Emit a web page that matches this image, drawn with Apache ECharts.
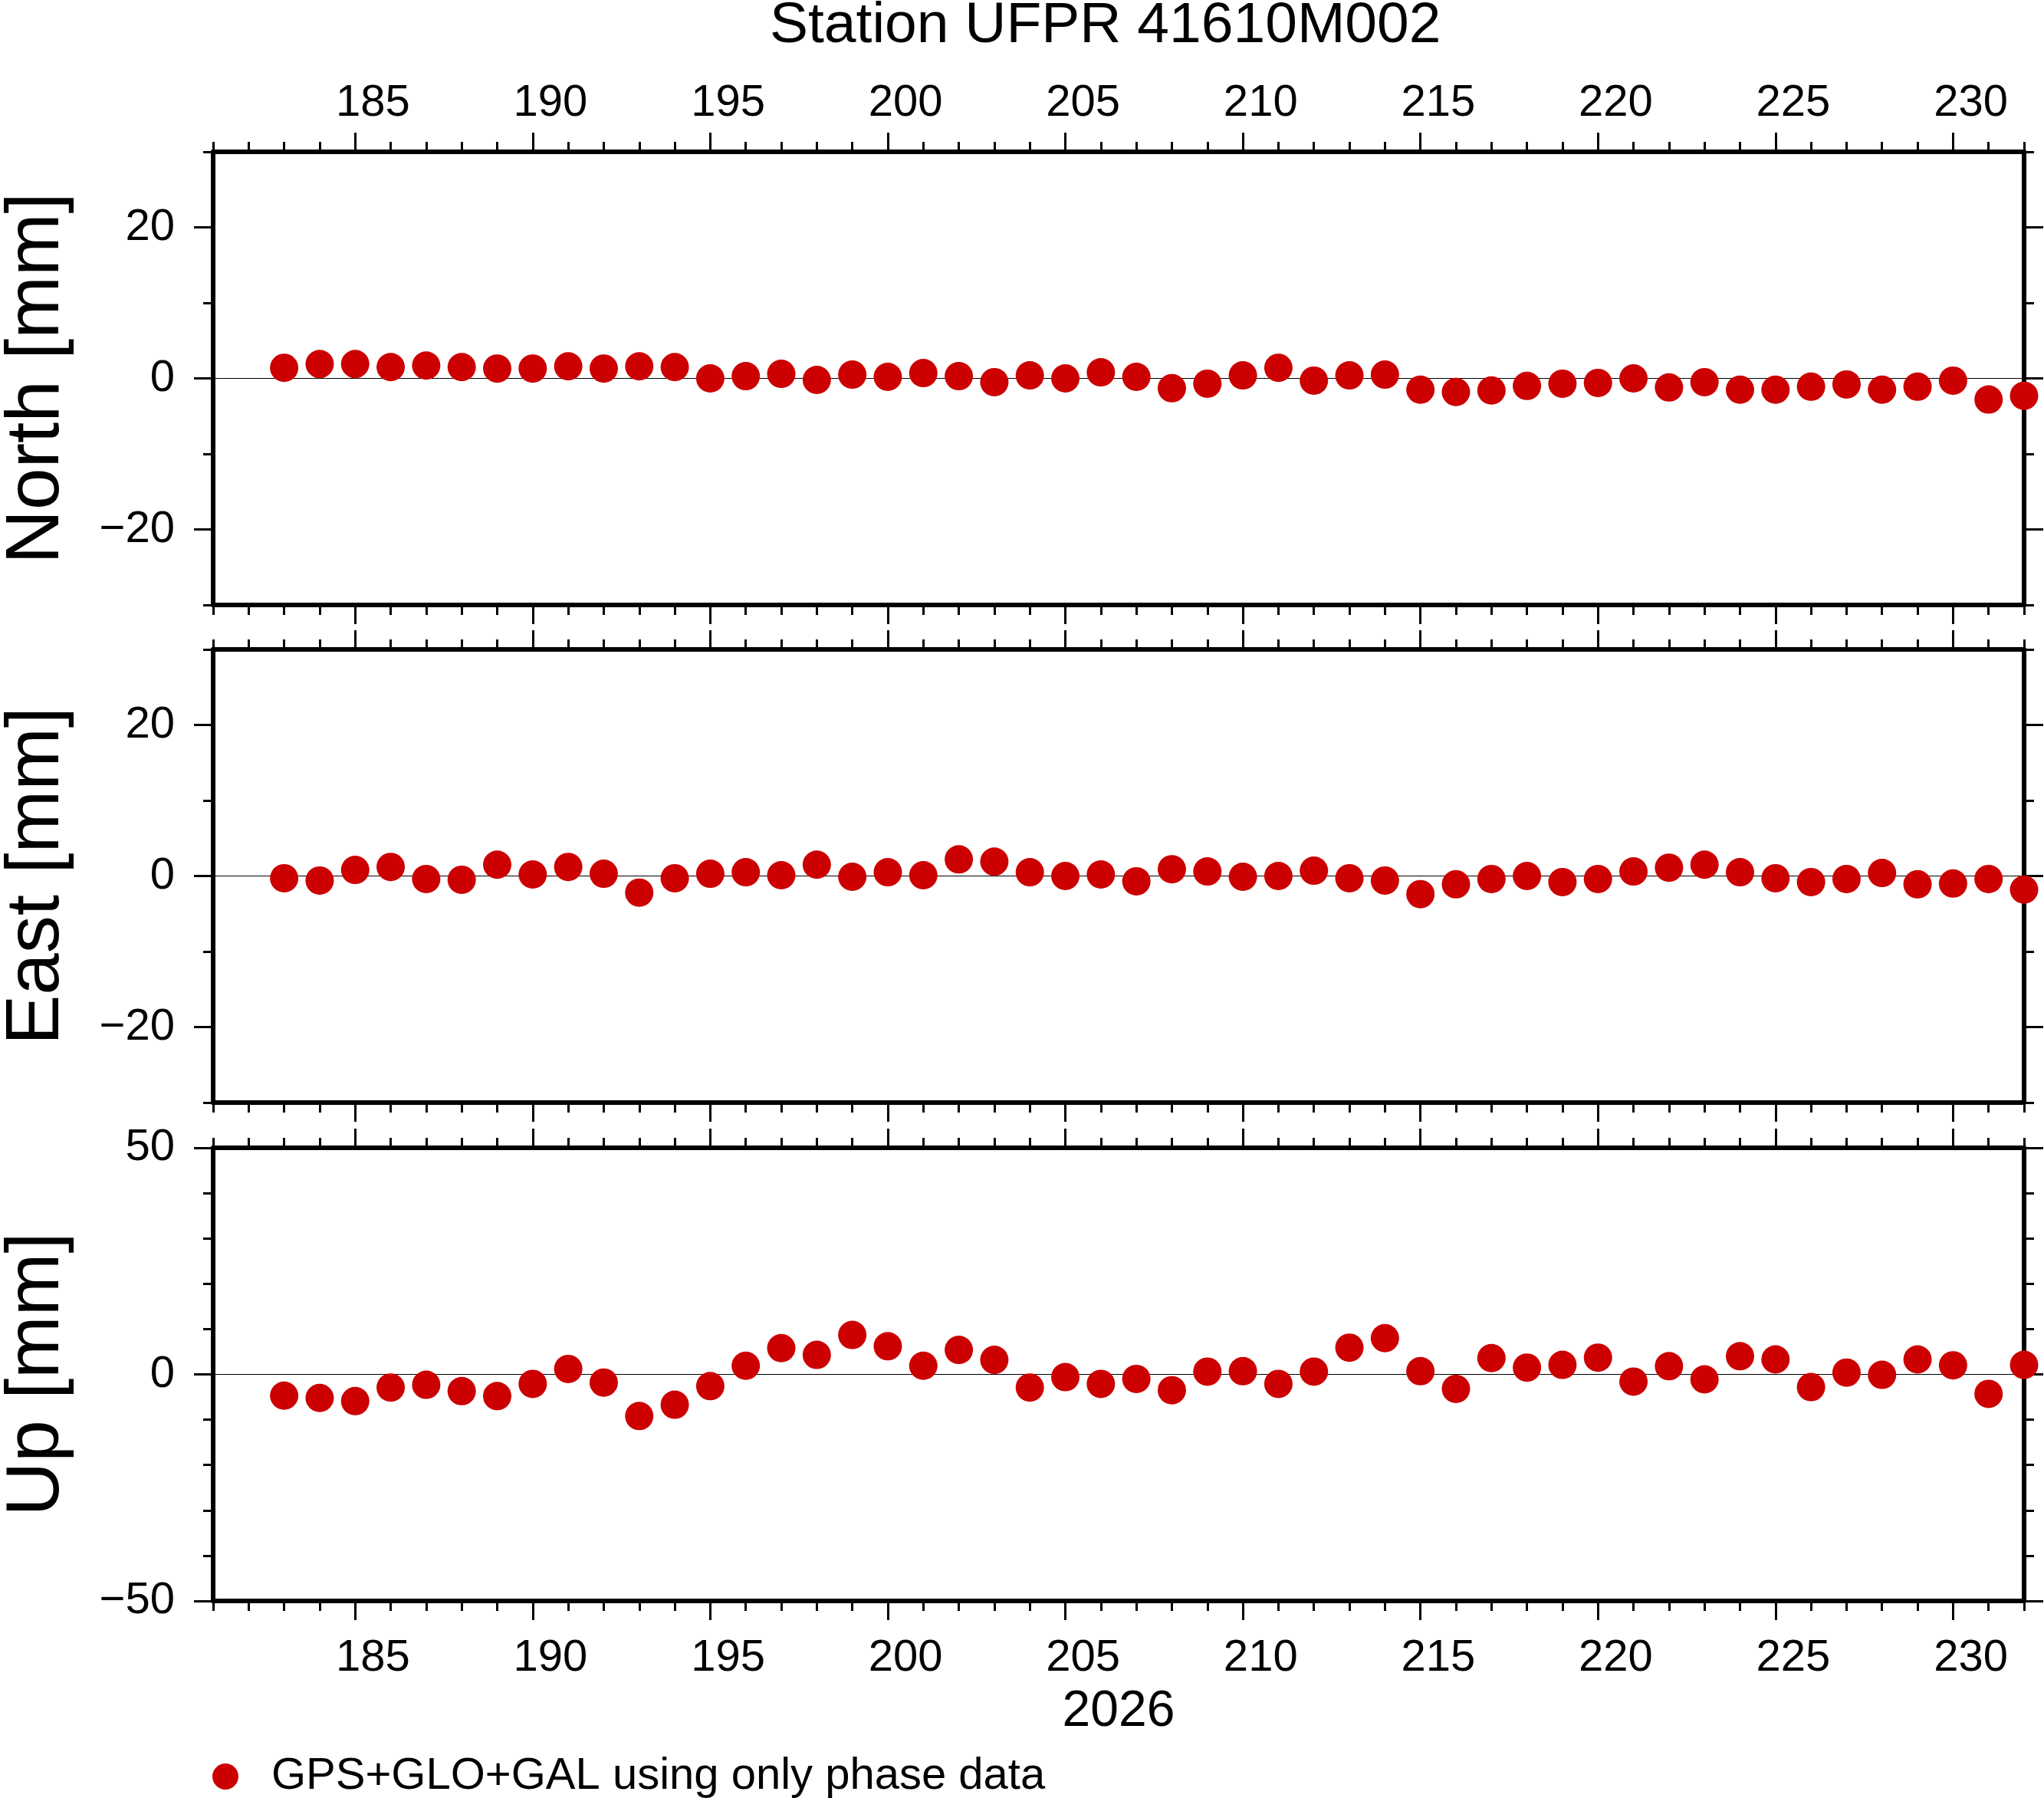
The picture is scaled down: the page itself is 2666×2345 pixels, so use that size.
<!DOCTYPE html>
<html lang="en">

<head>
    <meta charset="UTF-8">
    <title>Station UFPR 41610M002</title>
    <script src="https://cdn.jsdelivr.net/npm/echarts@6/dist/echarts.min.js"></script>
    <style>
        * {
            padding: 0;
            margin: 0;
        }
        html, body {
            background: #fff;
        }
        #chart {
            width: 2666px;
            height: 2345px;
        }
    </style>
</head>

<body>
    <div id="chart"></div>
</body>
<script>
    // day of year 2026
    var days = [183, 184, 185, 186, 187, 188, 189, 190, 191, 192, 193, 194,
        195, 196, 197, 198, 199, 200, 201, 202, 203, 204,
        205, 206, 207, 208, 209, 210, 211, 212, 213, 214,
        215, 216, 217, 218, 219, 220, 221, 222, 223, 224,
        225, 226, 227, 228, 229, 230, 231, 232];
    var north = [1.4, 1.9, 1.9, 1.5, 1.7, 1.5, 1.3, 1.3, 1.6, 1.3, 1.6, 1.5,
        0.0, 0.3, 0.6, -0.2, 0.5, 0.2, 0.7, 0.3, -0.5, 0.4,
        0.0, 0.8, 0.2, -1.3, -0.7, 0.4, 1.4, -0.3, 0.4, 0.5,
        -1.5, -1.8, -1.6, -1.0, -0.7, -0.6, 0.0, -1.2, -0.5, -1.5,
        -1.5, -1.1, -0.8, -1.5, -1.1, -0.3, -2.8, -2.3];
    var east = [-0.3, -0.6, 0.8, 1.2, -0.4, -0.5, 1.5, 0.2, 1.2, 0.3, -2.2, -0.3,
        0.3, 0.5, 0.1, 1.5, -0.1, 0.5, 0.1, 2.2, 1.9, 0.5,
        0.0, 0.2, -0.7, 0.9, 0.6, -0.1, 0.0, 0.7, -0.3, -0.6,
        -2.4, -1.1, -0.4, 0.0, -0.8, -0.4, 0.6, 1.1, 1.5, 0.5,
        -0.3, -0.8, -0.4, 0.4, -1.1, -1.0, -0.4, -1.8];
    var up = [-4.7, -5.2, -5.9, -2.9, -2.3, -3.7, -4.8, -2.1, 1.2, -1.8, -9.2, -6.7,
        -2.6, 1.9, 5.8, 4.3, 8.7, 6.2, 1.9, 5.4, 3.2, -2.9,
        -0.6, -2.1, -1.0, -3.5, 0.6, 0.7, -2.1, 0.6, 5.9, 8.0,
        0.7, -3.2, 3.6, 1.5, 2.1, 3.7, -1.6, 1.8, -1.1, 4.0,
        3.3, -2.8, 0.4, -0.1, 3.3, 2.0, -4.3, 2.1];

    var dayTicks = [181, 182, 183, 184, 185, 186, 187, 188, 189, 190, 191, 192, 193, 194, 195, 196, 197, 198, 199, 200,
        201, 202, 203, 204, 205, 206, 207, 208, 209, 210, 211, 212, 213, 214, 215, 216, 217, 218, 219, 220,
        221, 222, 223, 224, 225, 226, 227, 228, 229, 230, 231, 232];
    var dayMajor = [185, 190, 195, 200, 205, 210, 215, 220, 225, 230];
    // GMT puts the annotation in the middle of the day
    var dayLabels = [185.5, 190.5, 195.5, 200.5, 205.5, 210.5, 215.5, 220.5, 225.5, 230.5];

    var panels = [
        { name: 'North [mm]', values: north, min: -30, max: 30, minor: [-30, -20, -10, 0, 10, 20, 30], major: [-20, 0, 20] },
        { name: 'East [mm]', values: east, min: -30, max: 30, minor: [-30, -20, -10, 0, 10, 20, 30], major: [-20, 0, 20] },
        { name: 'Up [mm]', values: up, min: -50, max: 50, minor: [-50, -40, -30, -20, -10, 0, 10, 20, 30, 40, 50], major: [-50, 0, 50] }
    ];
    var gridTops = [198, 847, 1497];
    var gridHeight = 591;
    var legendName = 'GPS+GLO+GAL using only phase data';
    var dotColor = '#cc0000';
    var font = 'Liberation Sans, Arial, Helvetica, sans-serif';
    var frame = { color: '#000', width: 6 };
    var tick = { color: '#000', width: 3 };

    function minus(v) {
        return v < 0 ? '\u2212' + Math.abs(v) : String(v);
    }

    var grids = [], xAxes = [], yAxes = [], series = [];
    panels.forEach(function (p, i) {
        grids.push({ left: 278, right: 26, top: gridTops[i], height: gridHeight, containLabel: false, outerBoundsMode: 'none' });
        ['bottom', 'top'].forEach(function (pos) {
            var showLabels = (pos === 'top' && i === 0) || (pos === 'bottom' && i === 2);
            // daily ticks + frame line
            xAxes.push({
                type: 'value', gridIndex: i, position: pos, min: 181, max: 232,
                axisLine: { show: true, onZero: false, lineStyle: frame },
                axisTick: { show: true, customValues: dayTicks, length: 13, lineStyle: tick },
                axisLabel: { show: false },
                splitLine: { show: false }
            });
            // 5-day ticks + labels
            xAxes.push({
                type: 'value', gridIndex: i, position: pos, min: 181, max: 232,
                name: (pos === 'bottom' && i === 2) ? '2026' : '',
                nameLocation: 'middle', nameGap: 112,
                nameTextStyle: { fontSize: 66, color: '#000', fontFamily: font },
                axisLine: { show: false, onZero: false },
                axisTick: { show: true, customValues: dayMajor, length: 25, lineStyle: tick },
                axisLabel: {
                    show: showLabels, customValues: dayLabels, margin: pos === 'top' ? 34 : 46,
                    fontSize: 58, color: '#000', fontFamily: font,
                    formatter: function (v) { return Math.floor(v); }
                },
                splitLine: { show: false }
            });
        });
        ['left', 'right'].forEach(function (pos) {
            var left = pos === 'left';
            // short ticks + frame
            yAxes.push({
                type: 'value', gridIndex: i, position: pos, min: p.min, max: p.max,
                axisLine: { show: true, onZero: false, lineStyle: frame },
                axisTick: { show: true, customValues: p.minor, length: 13, lineStyle: tick },
                axisLabel: { show: false },
                splitLine: { show: false }
            });
            // long ticks, labels and title on the left
            yAxes.push({
                type: 'value', gridIndex: i, position: pos, min: p.min, max: p.max,
                name: left ? p.name : '', nameLocation: 'middle', nameRotate: 90, nameGap: 180,
                nameTextStyle: { fontSize: 98, color: '#000', fontFamily: font },
                axisLine: { show: false, onZero: false },
                axisTick: { show: true, customValues: p.major, length: 25, lineStyle: tick },
                axisLabel: {
                    show: left, customValues: p.major, margin: 50,
                    fontSize: 58, color: '#000', fontFamily: font, formatter: minus
                },
                splitLine: { show: false }
            });
        });
        series.push({
            name: legendName,
            type: 'scatter',
            xAxisIndex: i * 4,
            yAxisIndex: i * 4 + 1,
            symbol: 'circle',
            symbolSize: 37,
            clip: false,
            z: 3,
            itemStyle: { color: dotColor, opacity: 1 },
            data: days.map(function (d, k) { return [d, p.values[k]]; }),
            markLine: {
                silent: true, symbol: 'none', z: 1,
                label: { show: false },
                lineStyle: { color: '#000', width: 1.2, type: 'solid' },
                data: [{ yAxis: 0 }]
            }
        });
    });

    var chart = echarts.init(document.getElementById('chart'));
    var option = {
        animation: false,
        backgroundColor: '#fff',
        title: {
            text: 'Station UFPR 41610M002',
            left: 1004, top: -3, padding: 0,
            textStyle: { fontSize: 75, fontWeight: 'normal', color: '#000', fontFamily: font }
        },
        legend: {
            data: [legendName],
            left: 277, top: 2288, padding: 0,
            icon: 'circle', itemWidth: 34, itemHeight: 34,
            textStyle: { fontSize: 58, color: '#000', fontFamily: font, padding: [0, 0, 0, 38] }
        },
        grid: grids,
        xAxis: xAxes,
        yAxis: yAxes,
        series: series
    };
    chart.setOption(option);
</script>

</html>
